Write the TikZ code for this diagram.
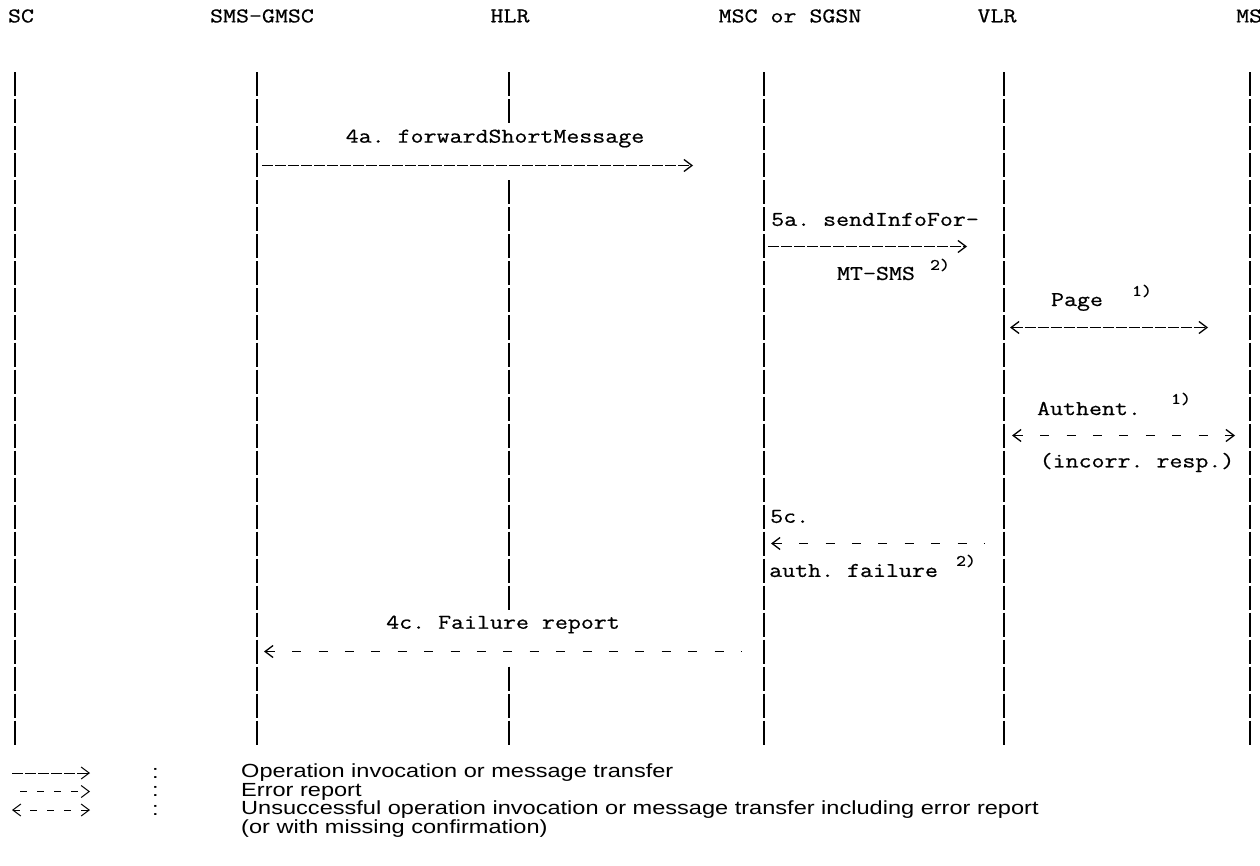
\documentclass[tikz,border=0pt]{standalone}
\usepackage{fontspec}
\setmonofont{Latin Modern Mono}[FakeStretch=1.2,FakeBold=0.6]
\newfontfamily\legendfont[FakeStretch=1.24]{Liberation Sans}
\usetikzlibrary{arrows.meta}
\begin{document}
\begin{tikzpicture}[x=1pt,y=-1pt,
  >={Straight Barb[length=8pt,width=12pt]},
  mono/.style={font=\fontsize{21}{21}\selectfont\ttfamily, inner sep=0pt},
  supx/.style={font=\fontsize{16}{16}\selectfont\ttfamily, inner sep=0pt},
  legtext/.style={font=\fontsize{19}{19}\legendfont, inner sep=0pt, anchor=west},
  life/.style={line width=1.5pt, dash pattern=on 24pt off 3pt, dash phase=25.5pt},
  msg/.style={line width=1.3pt, dash pattern=on 11pt off 2pt},
  err/.style={line width=1.3pt, dash pattern=on 9pt off 17.4pt}]
\fill[white] (0,0) rectangle (1260,866);
\useasboundingbox (0,0) rectangle (1260,866);
% headers
\node[mono] (sc) at (21,16) {SC};
\node[mono] (gmsc) at (262,16) {SMS-GMSC};
\node[mono] (hlr) at (510,16) {HLR};
\node[mono] (msc) at (790,16) {MSC or SGSN};
\node[mono] (vlr) at (997,16) {VLR};
\node[mono, anchor=west] (ms) at (1236,16) {MS};
% lifelines
\coordinate (scT) at (15,71);   \coordinate (scB) at (15,746);
\coordinate (gT) at (257,71);   \coordinate (gB) at (257,746);
\coordinate (hT) at (509,71);   \coordinate (hB) at (509,746);
\coordinate (mT) at (764,71);   \coordinate (mB) at (764,746);
\coordinate (vT) at (1004,71);  \coordinate (vB) at (1004,746);
\coordinate (sT) at (1250,71);  \coordinate (sB) at (1250,746);
\coordinate (h1) at (509,125);  \coordinate (h2) at (509,179);
\coordinate (h3) at (509,611);  \coordinate (h4) at (509,665);
\draw[life] (scT) -- (scB);
\draw[life] (gT) -- (gB);
\draw[life] (hT) -- (h1);
\draw[life] (h2) -- (h3);
\draw[life] (h4) -- (hB);
\draw[life] (mT) -- (mB);
\draw[life] (vT) -- (vB);
\draw[life] (sT) -- (sB);
% 4a
\node[mono] (t4a) at (495,138.5) {4a. forwardShortMessage};
\coordinate (a4s) at (262,165.5); \coordinate (a4e) at (693,165.5);
\draw[msg,->] (a4s) -- (a4e);
% 5a
\node[mono, anchor=west] (t5a) at (771,219.5) {5a. sendInfoFor-};
\coordinate (a5s) at (768,246.5); \coordinate (a5e) at (967,246.5);
\draw[msg,->] (a5s) -- (a5e);
\node[mono] (t5b) at (876,273.5) {MT-SMS};
\node[supx] (n5a) at (940,265) {2)};
% Page
\node[mono] (tpg) at (1077,302) {Page};
\node[supx] (npg) at (1142,291) {1)};
\coordinate (pgs) at (1010,327.5); \coordinate (pge) at (1208,327.5);
\draw[msg,<->] (pgs) -- (pge);
% Authent
\node[mono] (tau) at (1089,408.5) {Authent.};
\node[supx] (nau) at (1181,399) {1)};
\coordinate (aus) at (1012,435.5); \coordinate (aue) at (1235,435.5);
\draw[err,<->] (aus) -- (aue);
\node[mono] (tinc) at (1137,462.5) {(incorr. resp.)};
% 5c
\node[mono, anchor=west] (t5c) at (770,516.5) {5c.};
\coordinate (c5s) at (771,543.5); \coordinate (c5e) at (985,543.5);
\draw[err,<-] (c5s) -- (c5e);
\node[mono, anchor=west] (taf) at (769,570.5) {auth. failure};
\node[supx] (naf) at (966,561) {2)};
% 4c
\node[mono] (t4c) at (503,624.5) {4c. Failure report};
\coordinate (c4s) at (264,651.5); \coordinate (c4e) at (742,651.5);
\draw[err,<-] (c4s) -- (c4e);
% legend
\coordinate (l1s) at (12,773); \coordinate (l1e) at (90,773);
\coordinate (l2s) at (20,791.5); \coordinate (l2e) at (90,791.5);
\coordinate (l3s) at (12,810); \coordinate (l3e) at (90,810);
\draw[msg,line width=1pt,->] (l1s) -- (l1e);
\draw[err,line width=1pt,dash pattern=on 7pt off 10pt,->] (l2s) -- (l2e);
\draw[err,line width=1pt,dash pattern=on 7pt off 10pt,<->] (l3s) -- (l3e);
\node[legtext] (c1) at (152,773) {:};
\node[legtext] (c2) at (152,791.5) {:};
\node[legtext] (c3) at (152,810) {:};
\node[legtext] (d1) at (241,773) {Operation invocation or message transfer};
\node[legtext] (d2) at (241,791.5) {Error report};
\node[legtext] (d3) at (241,810) {Unsuccessful operation invocation or message transfer including error report};
\node[legtext] (d4) at (241,828.5) {(or with missing confirmation)};
\end{tikzpicture}
\end{document}
